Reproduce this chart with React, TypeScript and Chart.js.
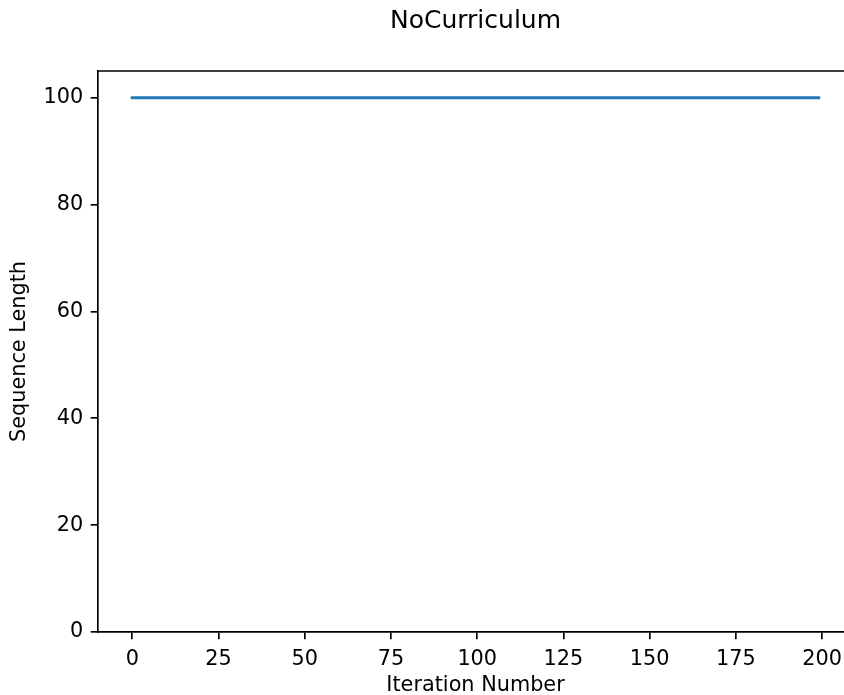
import React, { useEffect, useRef } from "react";
import { Chart, registerables } from "chart.js";

Chart.register(...registerables);

const chartTitle = "NoCurriculum";
const xAxisLabel = "Iteration Number";
const yAxisLabel = "Sequence Length";
const xTickValues = [0, 25, 50, 75, 100, 125, 150, 175, 200];
const yTickValues = [0, 20, 40, 60, 80, 100];
const sequenceLength = [
  100, 100, 100, 100, 100, 100, 100, 100, 100, 100,
  100, 100, 100, 100, 100, 100, 100, 100, 100, 100,
  100, 100, 100, 100, 100, 100, 100, 100, 100, 100,
  100, 100, 100, 100, 100, 100, 100, 100, 100, 100,
  100, 100, 100, 100, 100, 100, 100, 100, 100, 100,
  100, 100, 100, 100, 100, 100, 100, 100, 100, 100,
  100, 100, 100, 100, 100, 100, 100, 100, 100, 100,
  100, 100, 100, 100, 100, 100, 100, 100, 100, 100,
  100, 100, 100, 100, 100, 100, 100, 100, 100, 100,
  100, 100, 100, 100, 100, 100, 100, 100, 100, 100,
  100, 100, 100, 100, 100, 100, 100, 100, 100, 100,
  100, 100, 100, 100, 100, 100, 100, 100, 100, 100,
  100, 100, 100, 100, 100, 100, 100, 100, 100, 100,
  100, 100, 100, 100, 100, 100, 100, 100, 100, 100,
  100, 100, 100, 100, 100, 100, 100, 100, 100, 100,
  100, 100, 100, 100, 100, 100, 100, 100, 100, 100,
  100, 100, 100, 100, 100, 100, 100, 100, 100, 100,
  100, 100, 100, 100, 100, 100, 100, 100, 100, 100,
  100, 100, 100, 100, 100, 100, 100, 100, 100, 100,
  100, 100, 100, 100, 100, 100, 100, 100, 100, 100,
];
const iterations = sequenceLength.map((_, i) => i);

const FONT = "'DejaVu Sans', sans-serif";

const topSpine = {
  id: "topSpine",
  afterDraw(chart: any) {
    const { ctx, chartArea } = chart;
    ctx.save();
    ctx.strokeStyle = "#000";
    ctx.lineWidth = 1.67;
    ctx.beginPath();
    ctx.moveTo(chartArea.left - 0.8, chartArea.top);
    ctx.lineTo(chartArea.right, chartArea.top);
    ctx.stroke();
    ctx.beginPath();
    ctx.moveTo(chartArea.right, chartArea.top);
    ctx.lineTo(chartArea.right, chartArea.bottom);
    ctx.stroke();
    ctx.restore();
  },
};

export default function App() {
  const ref = useRef<HTMLCanvasElement | null>(null);
  useEffect(() => {
    if (!ref.current) return;
    const xMin = xTickValues[0] - 0.05 * (iterations[iterations.length - 1] - iterations[0]);
    const xMax = iterations[iterations.length - 1] + 0.05 * (iterations[iterations.length - 1] - iterations[0]);
    const chart = new Chart(ref.current, {
      type: "line",
      data: {
        labels: iterations,
        datasets: [
          {
            data: sequenceLength,
            borderColor: "#1f77b4",
            borderWidth: 3.1,
            borderCapStyle: "square",
            pointRadius: 0,
            tension: 0,
            fill: false,
          },
        ],
      },
      options: {
        responsive: false,
        animation: false,
        layout: { padding: { left: 0, right: 17, top: 0, bottom: 0 } },
        plugins: {
          legend: { display: false },
          tooltip: { enabled: false },
          title: {
            display: true,
            text: chartTitle,
            fullSize: false,
            color: "#000",
            font: { family: FONT, size: 25, weight: "normal" },
            padding: { top: 6, bottom: 35 },
          },
        },
        scales: {
          x: {
            type: "linear",
            min: xMin,
            max: xMax,
            afterFit: (s: any) => {
              s.height = 68;
            },
            afterBuildTicks: (s: any) => {
              s.ticks = xTickValues.map((v) => ({ value: v }));
            },
            ticks: {
              stepSize: 25,
              includeBounds: false,
              autoSkip: false,
              maxRotation: 0,
              padding: 8.3,
              color: "#000",
              font: { family: FONT, size: 20.8 },
            },
            grid: {
              display: true,
              drawOnChartArea: false,
              drawTicks: true,
              tickLength: 7.3,
              color: "#000",
              lineWidth: 1.67,
            },
            border: { display: true, color: "#000", width: 1.67 },
            title: {
              display: true,
              text: xAxisLabel,
              color: "#000",
              font: { family: FONT, size: 20.8 },
              padding: { top: 0, bottom: 1.5 },
            },
          },
          y: {
            type: "linear",
            min: 0,
            max: 105,
            afterFit: (s: any) => {
              s.width = 98;
            },
            afterBuildTicks: (s: any) => {
              s.ticks = yTickValues.map((v) => ({ value: v }));
            },
            ticks: {
              stepSize: 20,
              includeBounds: false,
              padding: 7.5,
              color: "#000",
              font: { family: FONT, size: 20.8 },
            },
            grid: {
              display: true,
              drawOnChartArea: false,
              drawTicks: true,
              tickLength: 7.3,
              color: "#000",
              lineWidth: 1.67,
            },
            border: { display: true, color: "#000", width: 1.67 },
            title: {
              display: true,
              text: yAxisLabel,
              color: "#000",
              font: { family: FONT, size: 20.8 },
              padding: { top: 7, bottom: 0 },
            },
          },
        },
      },
      plugins: [topSpine],
    } as any);
    return () => chart.destroy();
  }, []);

  return (
    <div
      style={{
        position: "fixed",
        left: 0,
        top: 0,
        width: 844,
        height: 695,
        overflow: "hidden",
        background: "#fff",
      }}
    >
      <canvas ref={ref} width={870} height={700} style={{ display: "block" }} />
    </div>
  );
}
